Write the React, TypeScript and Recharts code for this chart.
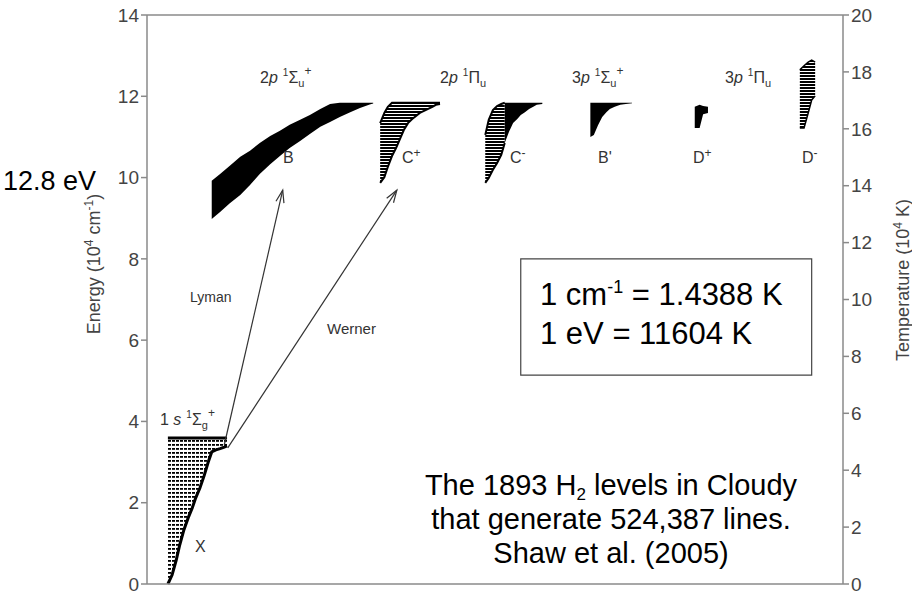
import { ComposedChart, Area, Line, XAxis, YAxis, ReferenceLine, ReferenceArea } from "recharts";

type Column = [number, number, number];

// Each column: horizontal position (0-100 across the frame), lowest and highest
// level energy in 10^4 cm^-1. Columns are stacks of rovibrational levels.
const groundX: Column[] = [
  [3.0, 0.0, 3.59], [3.6, 0.22, 3.59], [4.2, 0.59, 3.59], [4.7, 0.96, 3.59],
  [5.3, 1.33, 3.59], [5.9, 1.62, 3.59], [6.5, 1.87, 3.59], [7.0, 2.12, 3.59],
  [7.6, 2.36, 3.59], [8.2, 2.66, 3.59], [8.8, 3.0, 3.59], [9.3, 3.25, 3.59],
  [9.9, 3.3, 3.59], [10.5, 3.33, 3.59], [11.1, 3.37, 3.59], [11.5, 3.4, 3.59],
];

const bandB: Column[] = [
  [9.3, 8.98, 9.92], [10.5, 9.15, 10.09], [11.9, 9.37, 10.29], [13.4, 9.57, 10.51],
  [14.8, 9.82, 10.66], [16.2, 10.09, 10.85], [17.7, 10.33, 11.02], [19.1, 10.53, 11.15],
  [20.5, 10.73, 11.3], [22.0, 10.9, 11.42], [23.4, 11.07, 11.54], [24.9, 11.25, 11.69],
  [26.3, 11.37, 11.81], [27.7, 11.49, 11.84], [29.2, 11.61, 11.84], [30.6, 11.71, 11.84],
  [32.0, 11.8, 11.84], [32.5, 11.82, 11.84],
];

const bandCplus: Column[] = [
  [33.5, 9.87, 11.34], [34.1, 10.01, 11.59], [34.6, 10.26, 11.74], [35.2, 10.53, 11.84],
  [35.8, 10.73, 11.84], [36.4, 10.97, 11.84], [36.9, 11.17, 11.84], [37.5, 11.34, 11.84],
  [38.1, 11.44, 11.84], [38.7, 11.52, 11.84], [39.2, 11.59, 11.84], [39.8, 11.64, 11.84],
  [40.4, 11.69, 11.84], [41.0, 11.74, 11.84], [41.5, 11.79, 11.84], [42.1, 11.81, 11.84],
];

const bandCminusLow: Column[] = [
  [48.6, 9.87, 11.05], [49.1, 9.99, 11.42], [49.7, 10.19, 11.66], [50.3, 10.36, 11.76],
  [50.9, 10.56, 11.81], [51.4, 10.85, 11.84],
];

const bandCminusHigh: Column[] = [
  [51.4, 10.85, 11.84], [52.0, 11.12, 11.84], [52.6, 11.34, 11.84], [53.2, 11.44, 11.84],
  [53.7, 11.54, 11.84], [54.3, 11.61, 11.84], [54.9, 11.69, 11.84], [55.5, 11.74, 11.84],
  [56.0, 11.79, 11.84], [56.8, 11.81, 11.84],
];

const bandBprime: Column[] = [
  [63.7, 11.0, 11.84], [64.2, 11.05, 11.84], [64.8, 11.29, 11.84], [65.4, 11.49, 11.84],
  [66.0, 11.61, 11.84], [66.5, 11.69, 11.84], [67.2, 11.74, 11.84], [68.0, 11.79, 11.84],
  [68.8, 11.81, 11.84], [69.7, 11.83, 11.84],
];

const bandDplus: Column[] = [
  [78.7, 11.22, 11.74], [79.4, 11.22, 11.79], [79.9, 11.56, 11.76], [80.6, 11.59, 11.74],
];

const bandDminus: Column[] = [
  [93.8, 11.22, 12.65], [94.4, 11.22, 12.75], [95.0, 11.59, 12.84], [95.5, 11.91, 12.89],
  [96.0, 12.01, 12.84],
];

const energyTicks = [0, 2, 4, 6, 8, 10, 12, 14];
const temperatureTicks = [0, 2, 4, 6, 8, 10, 12, 14, 16, 18, 20];

const lymanArrow = [{ x: 11.1, y: 3.42 }, { x: 19.5, y: 9.69 }];
const wernerArrow = [{ x: 11.6, y: 3.35 }, { x: 35.9, y: 9.69 }];

const FONT = "'Liberation Sans', Arial, Helvetica, sans-serif";
const AXIS = "#8a8a8a";

const bands = [
  { key: "X", cols: groundX, fill: "url(#dashRows)", stroke: "#000", strokeWidth: 3 },
  { key: "B", cols: bandB, fill: "#000" },
  { key: "Cp", cols: bandCplus, fill: "url(#rows)", stroke: "#000", strokeWidth: 2 },
  { key: "CmLow", cols: bandCminusLow, fill: "url(#rows)", stroke: "#000", strokeWidth: 2 },
  { key: "CmHigh", cols: bandCminusHigh, fill: "#000" },
  { key: "Bp", cols: bandBprime, fill: "#000" },
  { key: "Dp", cols: bandDplus, fill: "#000" },
  { key: "Dm", cols: bandDminus, fill: "url(#rows)", stroke: "#000", strokeWidth: 1.5 },
];

const rows = new Map<number, any>();
bands.forEach((b) =>
  b.cols.forEach(([x, lo, hi]) => {
    const row = rows.get(x) ?? { x };
    row[b.key] = [lo, hi];
    rows.set(x, row);
  })
);
const table = [...rows.values()].sort((a, b) => a.x - b.x);

const Arrow = (props: any) => {
  const { x1, y1, x2, y2 } = props;
  const a = Math.atan2(y2 - y1, x2 - x1);
  const len = 13;
  const s = 0.32;
  const l = [x2 - len * Math.cos(a - s), y2 - len * Math.sin(a - s)];
  const r = [x2 - len * Math.cos(a + s), y2 - len * Math.sin(a + s)];
  return (
    <g>
      <line x1={x1} y1={y1} x2={x2} y2={y2} stroke="#333" strokeWidth={1.2} />
      <polyline points={`${l[0]},${l[1]} ${x2},${y2} ${r[0]},${r[1]}`} fill="none" stroke="#333" strokeWidth={1.2} />
    </g>
  );
};

const Term = ({ x, y, n, l, sym, sub, sup }: any) => (
  <text x={x} y={y} fontSize={16} fill="#333">
    <tspan>{n}</tspan>
    <tspan fontStyle="italic">{l}</tspan>
    <tspan dx={5} dy={-7} fontSize={10}>1</tspan>
    <tspan dy={7}>{sym}</tspan>
    <tspan dy={4} fontSize={11}>{sub}</tspan>
    {sup ? <tspan dy={-12} fontSize={12}>{sup}</tspan> : null}
  </text>
);

const StateName = ({ x, y, name, sup }: any) => (
  <text x={x} y={y} fontSize={16} fill="#333">
    <tspan>{name}</tspan>
    {sup ? <tspan dy={-6} fontSize={12}>{sup}</tspan> : null}
  </text>
);

export default function App() {
  return (
    <div style={{ position: "absolute", left: 0, top: 0, width: 912, height: 595, background: "#fff", fontFamily: FONT }}>
      <ComposedChart width={912} height={595} data={table} margin={{ top: 15, right: 0, bottom: 11, left: 0 }}>
        <defs>
          <pattern id="rows" width="4" height="3" patternUnits="userSpaceOnUse">
            <rect width="4" height="2" fill="#000" />
          </pattern>
          <pattern id="dashRows" width="4" height="4" patternUnits="userSpaceOnUse">
            <rect width="3" height="1.8" fill="#000" />
          </pattern>
        </defs>
        <XAxis type="number" dataKey="x" domain={[0, 100]} hide />
        <YAxis
          yAxisId="left"
          domain={[0, 14]}
          ticks={energyTicks}
          interval={0}
          width={147}
          tickSize={6}
          tickMargin={2}
          axisLine={{ stroke: AXIS, strokeWidth: 1.5 }}
          tickLine={{ stroke: AXIS, strokeWidth: 1.5 }}
          tick={{ fill: "#444", fontSize: 19, fontFamily: FONT }}
        />
        <YAxis
          yAxisId="right"
          orientation="right"
          type="number"
          domain={[0, 20]}
          ticks={temperatureTicks}
          interval={0}
          width={69}
          tickSize={6}
          tickMargin={2}
          axisLine={{ stroke: AXIS, strokeWidth: 1.5 }}
          tickLine={{ stroke: AXIS, strokeWidth: 1.5 }}
          tick={{ fill: "#444", fontSize: 19, fontFamily: FONT }}
        />
        {/* keeps the temperature axis bound to a series so it is drawn */}
        <Line yAxisId="right" dataKey="T" stroke="none" dot={false} activeDot={false} legendType="none" isAnimationActive={false} />
        <ReferenceLine yAxisId="right" y={0} stroke="none" ifOverflow="extendDomain" />
        <ReferenceLine yAxisId="right" y={20} stroke="none" ifOverflow="extendDomain" />
        <ReferenceLine yAxisId="left" y={14} stroke={AXIS} strokeWidth={1.5} />
        <ReferenceLine yAxisId="left" y={0} stroke={AXIS} strokeWidth={1.5} />
        {bands.map((b) => (
          <Area
            key={b.key}
            yAxisId="left"
            dataKey={b.key}
            type="linear"
            fill={b.fill}
            fillOpacity={1}
            stroke={b.stroke ?? "none"}
            strokeWidth={b.strokeWidth ?? 0}
            connectNulls
            dot={false}
            activeDot={false}
            isAnimationActive={false}
          />
        ))}
        <ReferenceLine yAxisId="left" segment={lymanArrow} shape={Arrow} />
        <ReferenceLine yAxisId="left" segment={wernerArrow} shape={Arrow} />
        <ReferenceArea yAxisId="left" x1={53.7} x2={95.5} y1={5.14} y2={8.0} fill="none" stroke="#444" strokeWidth={1.2} />
      </ComposedChart>

      <svg width={912} height={595} style={{ position: "absolute", left: 0, top: 0, pointerEvents: "none" }} fontFamily={FONT}>
        <text x={3} y={190} fontSize={27} fill="#000">12.8 eV</text>

        <text transform="translate(100,264) rotate(-90)" textAnchor="middle" fontSize={18} fill="#444">
          <tspan>Energy (10</tspan>
          <tspan dy={-7} fontSize={12}>4</tspan>
          <tspan dy={7}> cm</tspan>
          <tspan dy={-7} fontSize={12}>-1</tspan>
          <tspan dy={7}>)</tspan>
        </text>
        <text transform="translate(909,280) rotate(-90)" textAnchor="middle" fontSize={18} fill="#444">
          <tspan>Temperature (10</tspan>
          <tspan dy={-7} fontSize={12}>4</tspan>
          <tspan dy={7}> K)</tspan>
        </text>

        <Term x={260} y={83} n="2" l="p" sym="Σ" sub="u" sup="+" />
        <Term x={440} y={83} n="2" l="p" sym="Π" sub="u" />
        <Term x={572} y={83} n="3" l="p" sym="Σ" sub="u" sup="+" />
        <Term x={725} y={83} n="3" l="p" sym="Π" sub="u" />
        <Term x={160} y={425} n="1 " l="s" sym="Σ" sub="g" sup="+" />

        <StateName x={283} y={163} name="B" />
        <StateName x={402} y={163} name="C" sup="+" />
        <StateName x={510} y={163} name="C" sup="-" />
        <StateName x={598} y={163} name="B'" />
        <StateName x={693} y={163} name="D" sup="+" />
        <StateName x={802} y={163} name="D" sup="-" />
        <StateName x={195} y={552} name="X" />

        <text x={190} y={302} fontSize={14} fill="#333">Lyman</text>
        <text x={327} y={334} fontSize={15} fill="#333">Werner</text>

        <text x={540} y={305} fontSize={31} fill="#000">
          <tspan>1 cm</tspan>
          <tspan dy={-12} fontSize={18}>-1</tspan>
          <tspan dy={12}> = 1.4388 K</tspan>
        </text>
        <text x={540} y={344} fontSize={31} fill="#000">1 eV = 11604 K</text>

        <text x={611} y={495} fontSize={29} fill="#000" textAnchor="middle">
          <tspan>The 1893 H</tspan>
          <tspan dy={5} fontSize={17}>2</tspan>
          <tspan dy={-5}> levels in Cloudy</tspan>
        </text>
        <text x={611} y={529} fontSize={29} fill="#000" textAnchor="middle">that generate 524,387 lines.</text>
        <text x={611} y={563} fontSize={29} fill="#000" textAnchor="middle">Shaw et al. (2005)</text>
      </svg>
    </div>
  );
}
